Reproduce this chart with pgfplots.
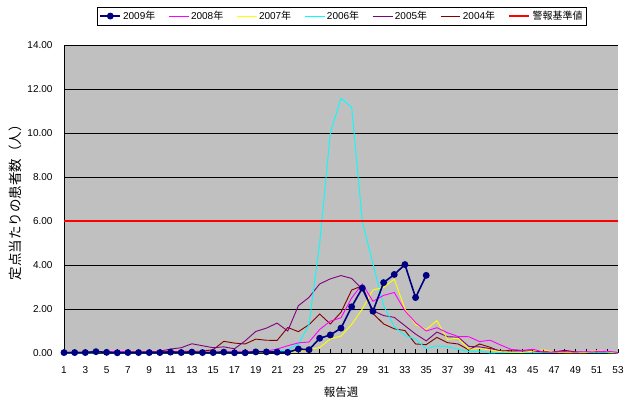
\documentclass[border=0pt]{standalone}
\usepackage{pgfplots}
\usepackage{pgfplotstable}
\pgfplotsset{compat=1.18}
\usepackage{fontspec}
\setmainfont{Liberation Sans}
\newfontfamily\cjk{Noto Sans CJK JP}
\definecolor{bggray}{RGB}{192,192,192}
\definecolor{c09}{RGB}{0,0,128}
\definecolor{c08}{RGB}{255,0,255}
\definecolor{c07}{RGB}{255,255,0}
\definecolor{c06}{RGB}{0,255,255}
\definecolor{c05}{RGB}{128,0,128}
\definecolor{c04}{RGB}{128,0,0}
\definecolor{cred}{RGB}{255,0,0}

\pgfplotstableread{
w  y04  y05  y06  y07  y08
1 0.03 0.02 0.00 0.01 0.02
2 0.03 0.02 0.00 0.01 0.03
3 0.04 0.02 0.00 0.01 0.03
4 0.05 0.03 0.01 0.01 0.04
5 0.04 0.03 0.01 0.01 0.05
6 0.04 0.03 0.01 0.01 0.08
7 0.05 0.03 0.01 0.01 0.05
8 0.05 0.04 0.01 0.01 0.04
9 0.06 0.05 0.01 0.01 0.05
10 0.06 0.08 0.01 0.01 0.04
11 0.07 0.18 0.01 0.01 0.05
12 0.07 0.24 0.01 0.01 0.05
13 0.08 0.42 0.01 0.01 0.06
14 0.08 0.33 0.01 0.01 0.04
15 0.15 0.24 0.01 0.01 0.05
16 0.53 0.28 0.02 0.01 0.06
17 0.45 0.19 0.02 0.02 0.05
18 0.41 0.55 0.02 0.02 0.06
19 0.63 0.98 0.02 0.02 0.07
20 0.58 1.13 0.05 0.02 0.08
21 0.57 1.36 0.10 0.03 0.18
22 1.16 1.00 0.15 0.03 0.33
23 0.97 2.15 0.40 0.06 0.46
24 1.29 2.53 1.30 0.15 0.50
25 1.77 3.14 5.00 0.25 1.07
26 1.32 3.37 10.00 0.64 1.45
27 1.85 3.52 11.58 0.77 1.60
28 2.86 3.39 11.17 1.30 2.50
29 3.06 2.90 5.97 2.00 3.14
30 1.80 1.92 4.05 2.86 2.35
31 1.32 1.70 2.15 2.98 2.62
32 1.10 1.62 1.20 3.36 2.75
33 1.02 1.24 0.80 2.00 1.92
34 0.41 0.86 0.63 1.29 1.38
35 0.38 0.55 0.20 1.07 1.00
36 0.71 0.95 0.32 1.47 1.15
37 0.47 0.74 0.29 0.62 0.92
38 0.41 0.72 0.17 0.67 0.75
39 0.14 0.30 0.06 0.17 0.74
40 0.41 0.28 0.09 0.20 0.52
41 0.26 0.20 0.00 0.14 0.58
42 0.06 0.10 0.02 0.06 0.36
43 0.14 0.08 0.02 0.04 0.16
44 0.10 0.10 0.02 0.03 0.12
45 0.08 0.08 0.01 0.08 0.17
46 0.05 0.03 0.01 0.15 0.05
47 0.05 0.05 0.01 0.03 0.04
48 0.12 0.05 0.01 0.02 0.05
49 0.05 0.03 0.01 0.02 0.04
50 0.03 0.03 0.01 0.02 0.05
51 0.08 0.05 0.01 0.10 0.06
52 0.05 0.03 0.01 0.05 0.08
53 0.02 0.02 0.00 0.00 0.02
}\tabprev

\pgfplotstableread{
w y09
1 0.02
2 0.02
3 0.02
4 0.06
5 0.03
6 0.01
7 0.02
8 0.02
9 0.02
10 0.02
11 0.04
12 0.02
13 0.04
14 0.02
15 0.02
16 0.04
17 0.01
18 0.01
19 0.05
20 0.05
21 0.04
22 0.03
23 0.18
24 0.15
25 0.67
26 0.82
27 1.13
28 2.10
29 2.95
30 1.90
31 3.20
32 3.57
33 4.02
34 2.52
35 3.53
}\tabnine

\pgfplotstableread{
w lim
1 6
53 6
}\tablim

\begin{document}
\begin{tikzpicture}
\path[use as bounding box] (0,0) rectangle (625pt,408pt);
\begin{axis}[
  at={(64pt,55pt)}, anchor=south west,
  scale only axis, width=554pt, height=308pt,
  xmin=1, xmax=53, ymin=0, ymax=14,
  axis lines=left, axis line style={-,black,line width=0.8pt},
  axis background/.style={fill=bggray},
  ytick={0,2,...,14}, ymajorgrids,
  major grid style={black,line width=0.7pt},
  xtick={1,...,53},
  xticklabels={1,,3,,5,,7,,9,,11,,13,,15,,17,,19,,21,,23,,25,,27,,29,,31,,33,,35,,37,,39,,41,,43,,45,,47,,49,,51,,53},
  tick align=inside, major tick length=4pt,
  tick style={black,line width=0.7pt},
  /pgf/number format/assume math mode=true,
  ticklabel style={font=\fontsize{10}{12}\selectfont},
  yticklabel style={xshift=-8pt, /pgf/number format/.cd, fixed, fixed zerofill, precision=2},
  xticklabel style={yshift=-10pt},
  xlabel={\cjk 報告週},
  xlabel style={at={(axis description cs:0.5,-0.127)}, anchor=center, font=\fontsize{11.5}{13}\selectfont},
  ylabel={\cjk 定点当たりの患者数（人）},
  ylabel style={at={(axis description cs:-0.0884,0.5)}, anchor=center, font=\fontsize{13.5}{15}\selectfont},
  clip=false,
  legend columns=7,
  legend style={at={(0.502,1.094)}, anchor=center, draw=black, fill=white,
    font=\fontsize{10}{12}\selectfont, inner sep=2pt,
    /tikz/every odd column/.append style={column sep=0pt},
    /tikz/every even column/.append style={column sep=11pt}},
  legend image code/.code={\draw[mark repeat=2,mark phase=2,#1] plot coordinates {(0cm,0cm) (0.35cm,0cm) (0.7cm,0cm)};},
]
\addlegendimage{c09, line width=1.6pt, mark=*, mark size=2.6pt, mark options={fill=c09}}
\addlegendentry{2009{\cjk 年}}
\addlegendimage{c08, line width=0.8pt}
\addlegendentry{2008{\cjk 年}}
\addlegendimage{c07, line width=0.8pt}
\addlegendentry{2007{\cjk 年}}
\addlegendimage{c06, line width=0.8pt}
\addlegendentry{2006{\cjk 年}}
\addlegendimage{c05, line width=0.8pt}
\addlegendentry{2005{\cjk 年}}
\addlegendimage{c04, line width=0.8pt}
\addlegendentry{2004{\cjk 年}}
\addlegendimage{cred, line width=2.6pt}
\addlegendentry{{\cjk 警報基準値}}

\addplot[c04, line width=0.9pt, forget plot] table[x=w, y=y04] {\tabprev};
\addplot[c05, line width=0.9pt, forget plot] table[x=w, y=y05] {\tabprev};
\addplot[c06, line width=0.9pt, forget plot] table[x=w, y=y06] {\tabprev};
\addplot[c07, line width=0.9pt, forget plot] table[x=w, y=y07] {\tabprev};
\addplot[c08, line width=0.9pt, forget plot] table[x=w, y=y08] {\tabprev};
\addplot[cred, line width=2.6pt, forget plot] table[x=w, y=lim] {\tablim};
\addplot[c09, line width=1.6pt, mark=*, mark size=2.6pt, mark options={fill=c09}, forget plot] table[x=w, y=y09] {\tabnine};
\end{axis}
\end{tikzpicture}
\end{document}
